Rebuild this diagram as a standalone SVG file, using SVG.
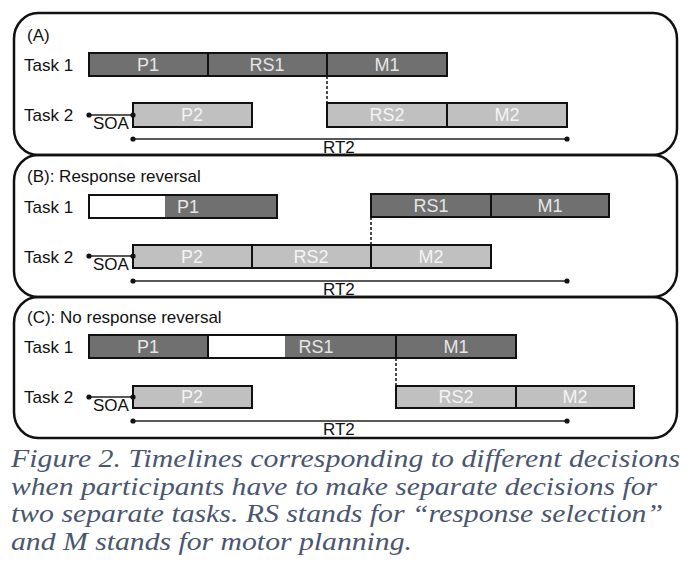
<svg xmlns="http://www.w3.org/2000/svg" width="690" height="578" viewBox="0 0 690 578">
<defs>
<style>
.panel{fill:none;stroke:#111;stroke-width:2.5}
.lbl{font-family:"Liberation Sans",Arial,sans-serif;font-size:17px;fill:#111}
.dk{fill:#707070;stroke:#111;stroke-width:2}
.lt{fill:#c0c0c0;stroke:#111;stroke-width:2}
.bt{font-family:"Liberation Sans",Arial,sans-serif;font-size:18px;text-anchor:middle}
.bd{fill:#e6e6e6}
.bl{fill:#f4f4f4}
.ln{stroke:#222;stroke-width:1.3;fill:none}
.dash{stroke:#111;stroke-width:1.5;stroke-dasharray:3,2;fill:none}
.dot{fill:#111}
.cap{font-family:"Liberation Serif","Times New Roman",serif;font-style:italic;font-size:26px;fill:#4a5670}
</style>
</defs>
<rect width="690" height="578" fill="#ffffff"/>

<g id="panelA">
<rect class="panel" x="14" y="13" width="663" height="142" rx="24" ry="26"/>
<text class="lbl" x="27" y="41">(A)</text>
<text class="lbl" x="24" y="71">Task 1</text>
<text class="lbl" x="24" y="121">Task 2</text>
</g>
<g id="A-task1">
<rect class="dk" x="89" y="53" width="119" height="23"/>
<rect class="dk" x="208" y="53" width="119" height="23"/>
<rect class="dk" x="327" y="53" width="120" height="23"/>
<text class="bt bd" x="148" y="71">P1</text>
<text class="bt bd" x="267" y="71">RS1</text>
<text class="bt bd" x="387" y="71">M1</text>
</g>
<g id="A-task2">
<rect class="lt" x="133" y="103" width="119" height="24"/>
<rect class="lt" x="327" y="103" width="120" height="24"/>
<rect class="lt" x="447" y="103" width="120" height="24"/>
<text class="bt bl" x="192" y="121">P2</text>
<text class="bt bl" x="387" y="121">RS2</text>
<text class="bt bl" x="507" y="121">M2</text>
</g>

<g id="panelB">
<rect class="panel" x="14" y="155" width="663" height="142" rx="24" ry="26"/>
<text class="lbl" x="27" y="182">(B):  Response reversal</text>
<text class="lbl" x="24" y="213">Task 1</text>
<text class="lbl" x="24" y="263">Task 2</text>
</g>
<g id="B-task1">
<rect class="dk" x="89" y="195" width="188" height="23"/>
<rect x="90" y="196" width="75" height="21" fill="#ffffff"/>
<rect class="dk" x="371" y="194" width="120" height="23"/>
<rect class="dk" x="491" y="194" width="118" height="23"/>
<text class="bt bd" x="188" y="213">P1</text>
<text class="bt bd" x="431" y="212">RS1</text>
<text class="bt bd" x="550" y="212">M1</text>
</g>
<g id="B-task2">
<rect class="lt" x="133" y="245" width="119" height="23"/>
<rect class="lt" x="252" y="245" width="119" height="23"/>
<rect class="lt" x="371" y="245" width="120" height="23"/>
<text class="bt bl" x="192" y="263">P2</text>
<text class="bt bl" x="311" y="263">RS2</text>
<text class="bt bl" x="431" y="263">M2</text>
</g>

<g id="panelC">
<rect class="panel" x="14" y="297" width="663" height="141" rx="24" ry="26"/>
<text class="lbl" x="27" y="323">(C): No response reversal</text>
<text class="lbl" x="24" y="353">Task 1</text>
<text class="lbl" x="24" y="403">Task 2</text>
</g>
<g id="C-task1">
<rect class="dk" x="89" y="335" width="119" height="23"/>
<rect class="dk" x="208" y="335" width="188" height="23"/>
<rect x="209" y="336" width="76" height="21" fill="#ffffff"/>
<rect class="dk" x="396" y="335" width="120" height="23"/>
<text class="bt bd" x="148" y="353">P1</text>
<text class="bt bd" x="316" y="353">RS1</text>
<text class="bt bd" x="456" y="353">M1</text>
</g>
<g id="C-task2">
<rect class="lt" x="133" y="386" width="119" height="22"/>
<rect class="lt" x="396" y="386" width="120" height="22"/>
<rect class="lt" x="516" y="386" width="118" height="22"/>
<text class="bt bl" x="192" y="403">P2</text>
<text class="bt bl" x="456" y="403">RS2</text>
<text class="bt bl" x="575" y="403">M2</text>
</g>

<g id="connectors">
<line class="dash" x1="327" y1="76" x2="327" y2="103"/>
<line class="dash" x1="371" y1="217" x2="371" y2="245"/>
<line class="dash" x1="396" y1="358" x2="396" y2="386"/>
<line class="ln" x1="89" y1="115" x2="133" y2="115"/>
<circle class="dot" cx="89" cy="115" r="2.6"/>
<circle class="dot" cx="133" cy="115" r="2.6"/>
<line class="ln" x1="133" y1="139" x2="567" y2="139"/>
<circle class="dot" cx="133" cy="139" r="2.6"/>
<circle class="dot" cx="567" cy="139" r="2.6"/>
<line class="ln" x1="89" y1="256" x2="133" y2="256"/>
<circle class="dot" cx="89" cy="256" r="2.6"/>
<circle class="dot" cx="133" cy="256" r="2.6"/>
<line class="ln" x1="133" y1="281" x2="567" y2="281"/>
<circle class="dot" cx="133" cy="281" r="2.6"/>
<circle class="dot" cx="567" cy="281" r="2.6"/>
<line class="ln" x1="89" y1="397" x2="133" y2="397"/>
<circle class="dot" cx="89" cy="397" r="2.6"/>
<circle class="dot" cx="133" cy="397" r="2.6"/>
<line class="ln" x1="133" y1="421" x2="567" y2="421"/>
<circle class="dot" cx="133" cy="421" r="2.6"/>
<circle class="dot" cx="567" cy="421" r="2.6"/>
<text class="lbl" x="93" y="129">SOA</text>
<text class="lbl" x="323" y="153">RT2</text>
<text class="lbl" x="93" y="270">SOA</text>
<text class="lbl" x="323" y="295">RT2</text>
<text class="lbl" x="93" y="411">SOA</text>
<text class="lbl" x="323" y="435">RT2</text>
</g>

<g id="caption">
<text class="cap" x="11" y="467" textLength="669" lengthAdjust="spacingAndGlyphs">Figure 2. Timelines corresponding to different decisions</text>
<text class="cap" x="11" y="495" textLength="646" lengthAdjust="spacingAndGlyphs">when participants have to make separate decisions for</text>
<text class="cap" x="11" y="522" textLength="652" lengthAdjust="spacingAndGlyphs">two separate tasks. RS stands for “response selection”</text>
<text class="cap" x="11" y="550" textLength="401" lengthAdjust="spacingAndGlyphs">and M stands for motor planning.</text>
</g>
</svg>
